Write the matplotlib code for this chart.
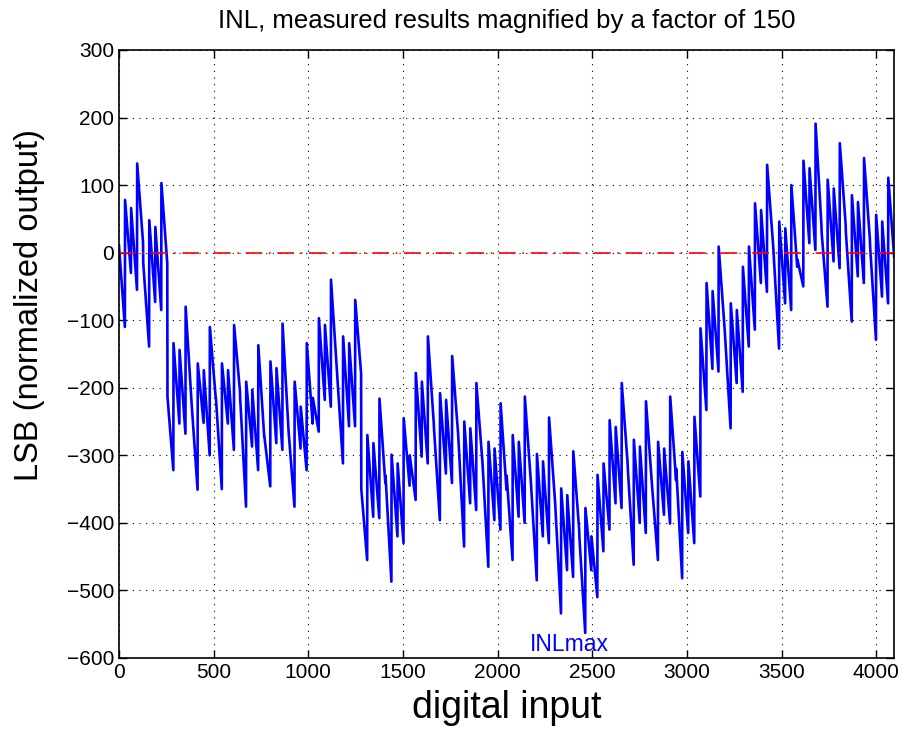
#!/usr/bin/python3
import numpy as np
from matplotlib import pyplot as plt

# INL: one value at the start (peak) and one at the end (trough)
# of every 32-code segment, 128 segments -> codes 0..4095
peak = [10, 78, 66, 132, -15, 48, 38, 103,
        -213, -134, -144, -80, -225, -164, -174, -110,
        -215, -164, -174, -107, -215, -191, -203, -137,
        -272, -161, -171, -105, -265, -191, -228, -134,
        -215, -97, -107, -40, -180, -124, -134, -70,
        -350, -270, -282, -216, -330, -299, -312, -245,
        -300, -178, -191, -124, -260, -208, -218, -153,
        -270, -250, -260, -193, -310, -280, -290, -223,
        -330, -270, -280, -213, -340, -298, -309, -244,
        -370, -349, -359, -294, -420, -378, -420, -329,
        -312, -248, -258, -193, -320, -277, -287, -220,
        -345, -280, -290, -213, -320, -295, -309, -243,
        -112, -45, -57, 9, -115, -75, -85, -21,
        9, 73, 63, 130, 10, 46, 36, 100,
        -10, 136, 125, 191, 30, 108, 95, 162,
        30, 85, 75, 140, 10, 56, 46, 111]
trough = [-110, -30, -55, 15, -139, -73, -85, -16,
          -322, -253, -268, -223, -351, -252, -300, -215,
          -350, -253, -292, -205, -376, -287, -322, -272,
          -346, -282, -292, -262, -376, -290, -322, -253,
          -265, -218, -228, -174, -312, -257, -257, -179,
          -455, -391, -393, -341, -487, -420, -430, -345,
          -366, -302, -312, -253, -396, -327, -341, -267,
          -435, -371, -381, -307, -465, -396, -410, -351,
          -455, -391, -400, -336, -485, -420, -430, -366,
          -534, -470, -480, -410, -563, -470, -510, -442,
          -410, -371, -378, -312, -462, -400, -415, -341,
          -455, -388, -401, -337, -482, -415, -430, -361,
          -233, -172, -176, -110, -260, -193, -206, -139,
          -114, -45, -58, 14, -142, -75, -85, -21,
          -50, 14, 4, 40, -80, -13, -23, 41,
          -102, -35, -45, 19, -129, -65, -75, -6]
seg_len = 32
n_codes = 4096

starts = np.arange(len(peak)) * seg_len
codes = np.column_stack([starts, starts + seg_len - 1]).ravel()
inl = np.column_stack([peak, trough]).ravel()

plt.rcParams['font.family'] = ['Liberation Sans', 'DejaVu Sans']

fig = plt.figure(figsize=(9.05, 7.35), dpi=100)
ax = fig.add_axes([0.1315, 0.1048, 0.8565, 0.8272])

ax.plot(codes, inl, color='#0000ff', lw=1.9)
ax.plot([0, n_codes - 1], [0, 0], color='red', lw=1.2, linestyle=(0, (10, 4, 1, 4)))
ax.text(2170, -597, 'INLmax', color='#0000ff', fontsize=16.5, ha='left', va='bottom')

ax.set_xlim(0, n_codes - 1)
ax.set_ylim(-600, 300)
ax.set_xticks(np.arange(0, 4001, 500))
ax.set_yticks(np.arange(-600, 301, 100))
ax.set_yticklabels([str(v).replace('-', '\u2212') for v in range(-600, 301, 100)])
ax.tick_params(direction='in', top=True, right=True, labelsize=15, length=6, width=1)
ax.grid(True, color='black', linestyle=(0, (1, 5)), linewidth=0.8)
for s in ax.spines.values():
    s.set_linewidth(1.2)

ax.set_title('INL, measured results magnified by a factor of 150', fontsize=18.5, pad=16)
ax.set_xlabel('digital input', fontsize=27, labelpad=6)
ax.set_ylabel('LSB (normalized output)', fontsize=23.5)
ax.yaxis.set_label_coords(-0.095, 0.58)

plt.savefig('out.png', dpi=100)
